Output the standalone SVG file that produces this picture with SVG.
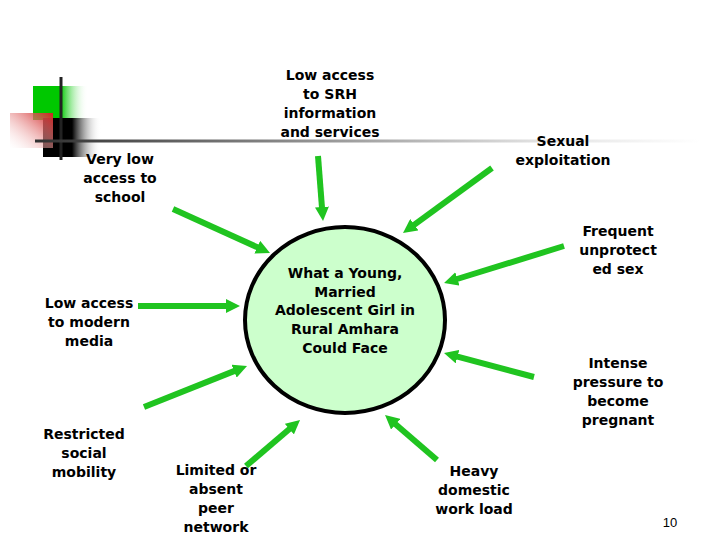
<svg xmlns="http://www.w3.org/2000/svg" width="720" height="540" viewBox="0 0 720 540">
<style>
.lbl{font-family:"DejaVu Sans",Verdana,sans-serif;font-weight:bold;font-size:14px;fill:#000;text-anchor:middle}
.arr{stroke:#20c420;stroke-width:6;fill:none;marker-end:url(#ah)}
.pg{font-family:"Liberation Sans",Arial,sans-serif;font-size:13px;fill:#000;text-anchor:middle}
</style>
<defs>
<marker id="ah" markerUnits="userSpaceOnUse" markerWidth="14" markerHeight="14" refX="2" refY="7" orient="auto">
<path d="M0,0 L14,7 L0,14 z" fill="#20c420"/>
</marker>
<linearGradient id="gGreen" x1="0" y1="0" x2="1" y2="0">
<stop offset="0" stop-color="#00c800"/>
<stop offset="0.5" stop-color="#00c800"/>
<stop offset="1" stop-color="#ffffff" stop-opacity="0"/>
</linearGradient>
<linearGradient id="gBlack" x1="0" y1="0" x2="1" y2="0">
<stop offset="0" stop-color="#000"/>
<stop offset="0.5" stop-color="#000"/>
<stop offset="1" stop-color="#ffffff" stop-opacity="0"/>
</linearGradient>
<linearGradient id="gRed" x1="1" y1="0" x2="0" y2="1">
<stop offset="0" stop-color="#d02020"/>
<stop offset="1" stop-color="#ffffff" stop-opacity="0.2"/>
</linearGradient>
<linearGradient id="gLine" x1="35" y1="0" x2="700" y2="0" gradientUnits="userSpaceOnUse">
<stop offset="0" stop-color="#303030"/>
<stop offset="0.75" stop-color="#e0e0e0"/>
<stop offset="1" stop-color="#ffffff"/>
</linearGradient>
</defs>
<rect width="720" height="540" fill="#fff"/>
<g id="decor">
<rect x="33" y="86" width="55" height="34" fill="url(#gGreen)"/>
<rect x="43" y="118" width="58" height="39" fill="url(#gBlack)"/>
<rect x="10" y="113" width="43" height="35" fill="url(#gRed)"/>
<line x1="61" y1="77" x2="61" y2="160" stroke="#222" stroke-width="3"/>
<line x1="35" y1="141" x2="700" y2="141" stroke="url(#gLine)" stroke-width="3"/>
</g>
<g id="connectors">
<line class="arr" x1="318" y1="156" x2="322.1" y2="209"/>
<line class="arr" x1="173" y1="209" x2="259.1" y2="248"/>
<line class="arr" x1="492" y1="168" x2="412.7" y2="225.9"/>
<line class="arr" x1="564" y1="246" x2="455.5" y2="279.5"/>
<line class="arr" x1="534" y1="377" x2="455.6" y2="356.1"/>
<line class="arr" x1="138" y1="306" x2="228" y2="306"/>
<line class="arr" x1="144" y1="407" x2="235.9" y2="370.4"/>
<line class="arr" x1="246" y1="466" x2="290.9" y2="427.8"/>
<line class="arr" x1="437" y1="460" x2="394.1" y2="422.9"/>
</g>
<g id="center">
<ellipse cx="345" cy="320" rx="100" ry="93" fill="#ccffcc" stroke="#000" stroke-width="4"/>
<text class="lbl"><tspan x="345" y="278">What a Young,</tspan><tspan x="345" y="297">Married</tspan><tspan x="345" y="315">Adolescent Girl in</tspan><tspan x="345" y="334">Rural Amhara</tspan><tspan x="345" y="353">Could Face</tspan></text>
</g>
<g id="srh"><text class="lbl"><tspan x="330" y="80">Low access</tspan><tspan x="330" y="99">to SRH</tspan><tspan x="330" y="118">information</tspan><tspan x="330" y="137">and services</tspan></text></g>
<g id="sexual"><text class="lbl"><tspan x="563" y="146">Sexual</tspan><tspan x="563" y="165">exploitation</tspan></text></g>
<g id="school"><text class="lbl"><tspan x="120" y="164">Very low</tspan><tspan x="120" y="183">access to</tspan><tspan x="120" y="202">school</tspan></text></g>
<g id="frequent"><text class="lbl"><tspan x="618" y="236">Frequent</tspan><tspan x="618" y="255">unprotect</tspan><tspan x="618" y="274">ed sex</tspan></text></g>
<g id="media"><text class="lbl"><tspan x="89" y="308">Low access</tspan><tspan x="89" y="327">to modern</tspan><tspan x="89" y="346">media</tspan></text></g>
<g id="pressure"><text class="lbl"><tspan x="618" y="368">Intense</tspan><tspan x="618" y="387">pressure to</tspan><tspan x="618" y="406">become</tspan><tspan x="618" y="425">pregnant</tspan></text></g>
<g id="mobility"><text class="lbl"><tspan x="84" y="439">Restricted</tspan><tspan x="84" y="458">social</tspan><tspan x="84" y="477">mobility</tspan></text></g>
<g id="peer"><text class="lbl"><tspan x="216" y="475">Limited or</tspan><tspan x="216" y="494">absent</tspan><tspan x="216" y="513">peer</tspan><tspan x="216" y="532">network</tspan></text></g>
<g id="work"><text class="lbl"><tspan x="474" y="476">Heavy</tspan><tspan x="474" y="495">domestic</tspan><tspan x="474" y="514">work load</tspan></text></g>
<text class="pg" x="670" y="527">10</text>
</svg>
